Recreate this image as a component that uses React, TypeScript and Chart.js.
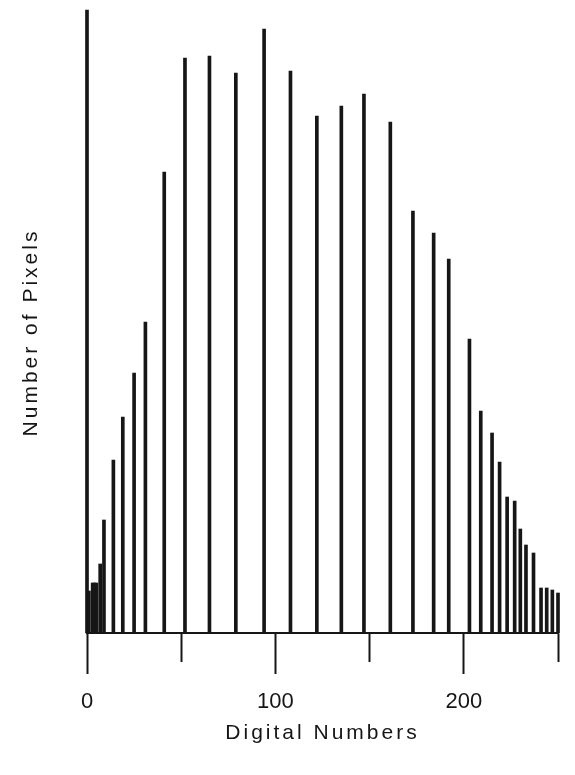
import React, { useEffect, useRef } from 'react';
import { Chart, registerables } from 'chart.js';

Chart.register(...registerables);

// Digital number (DN) of each histogram line and its pixel count (arbitrary units)
const digitalNumbers = [
  0, 1, 3, 4, 5, 7, 9, 14, 19, 25, 31, 41, 52, 65, 79, 94, 108, 122, 135, 147, 161,
  173, 184, 192, 203, 209, 215, 219, 223, 227, 230, 233, 237, 241, 244, 247, 250,
];
const pixelCounts = [
  623, 42, 50, 50, 50, 69, 113, 173, 216, 260, 311, 461, 575, 577, 560, 604, 562, 517, 527, 539, 511,
  422, 400, 374, 294, 222, 200, 171, 136, 132, 104, 88, 80, 45, 45, 43, 40,
];
const xTickValues = [0, 50, 100, 150, 200, 250];
const xTickLabels = ['0', '', '100', '', '200', ''];
const xTitle = 'Digital Numbers';
const yTitle = 'Number of Pixels';

const INK = '#161616';
const FONT = "'Liberation Sans', Arial, Helvetica, sans-serif";

const trackingPlugin = {
  id: 'titleTracking',
  beforeDraw(chart: any) {
    chart.ctx.letterSpacing = '3px';
  },
  beforeDatasetsDraw(chart: any) {
    chart.ctx.letterSpacing = '0px';
  },
  afterDraw(chart: any) {
    chart.ctx.letterSpacing = '0px';
  },
};

export default function App() {
  const ref = useRef<HTMLCanvasElement>(null);

  useEffect(() => {
    if (!ref.current) return;
    const chart = new Chart(ref.current, {
      type: 'bar',
      data: {
        datasets: [
          {
            data: digitalNumbers.map((x, i) => ({ x, y: pixelCounts[i] })),
            backgroundColor: INK,
            borderWidth: 0,
            barThickness: 3,
            clip: false as any,
          } as any,
        ],
      },
      options: {
        animation: false,
        responsive: false,
        maintainAspectRatio: false,
        layout: { padding: { left: 0, right: 17, top: 32, bottom: 0 } },
        plugins: {
          legend: { display: false },
          tooltip: { enabled: false },
        },
        scales: {
          x: {
            type: 'linear',
            min: 0,
            max: 250,
            offset: false,
            afterBuildTicks: (s: any) => {
              s.ticks = xTickValues.map((v) => ({ value: v }));
            },
            afterFit: (s: any) => {
              s.height = 142;
            },
            grid: {
              display: true,
              offset: false,
              drawOnChartArea: false,
              drawTicks: true,
              tickLength: 41,
              tickWidth: 2,
              tickColor: INK,
              tickBorderDash: (ctx: any) =>
                ctx.tick && ctx.tick.value % 100 === 0 ? [] : [28, 200],
            } as any,
            border: { display: true, color: INK, width: 2 },
            ticks: {
              z: 1,
              autoSkip: false,
              maxRotation: 0,
              padding: 15,
              color: INK,
              font: { family: FONT, size: 22 },
              callback: (_v: any, i: number) => xTickLabels[i],
            },
            title: {
              display: true,
              text: xTitle,
              color: INK,
              font: { family: FONT, size: 21 },
              padding: { top: 0, bottom: 29 },
            },
          },
          y: {
            min: 0,
            max: 601,
            afterFit: (s: any) => {
              s.width = 87;
            },
            grid: { display: false },
            border: { display: false },
            ticks: { display: false },
            title: {
              display: true,
              text: yTitle,
              color: INK,
              font: { family: FONT, size: 21 },
              padding: { top: 19, bottom: 0 },
            },
          },
        },
      },
      plugins: [trackingPlugin],
    });
    return () => chart.destroy();
  }, []);

  return (
    <div style={{ position: 'absolute', left: 0, top: 0, width: 575, height: 775, background: '#fff' }}>
      <canvas ref={ref} width={575} height={775} style={{ display: 'block' }} />
    </div>
  );
}
